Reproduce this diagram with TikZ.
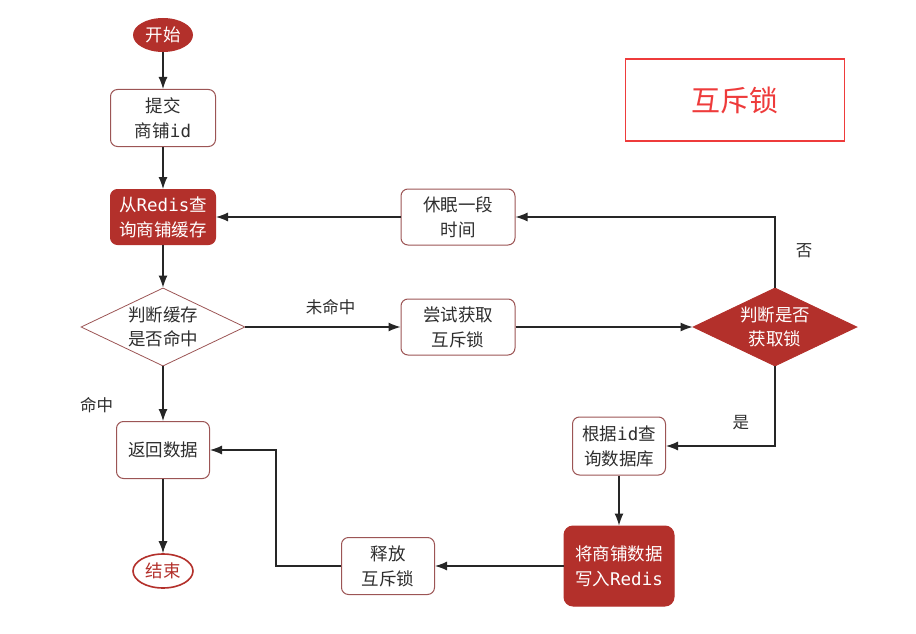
\documentclass[tikz,border=0pt]{standalone}
\usepackage{fontspec}
\setmainfont{Noto Sans CJK SC}
\newfontfamily\monolat{DejaVu Sans Mono}
\usetikzlibrary{shapes.geometric, arrows.meta}
\definecolor{lockred}{HTML}{B3302B}
\definecolor{boxline}{HTML}{9C5555}
\definecolor{textgray}{HTML}{2E2E2E}
\definecolor{notered}{HTML}{EE3B3B}
\begin{document}
\begin{tikzpicture}
    [x=1pt, y=-1pt,
    process/.style={draw=boxline, fill=white, rounded corners=7pt, line width=1pt, minimum height=57pt, inner sep=2pt, align=center, text=textgray, font=\fontsize{17.5}{25}\selectfont},
    redproc/.style={process, fill=lockred, draw=lockred, text=white},
    decision/.style={diamond, draw=boxline, fill=white, line width=0.8pt, minimum width=164pt, minimum height=68pt, inner sep=-8pt, align=center, text=textgray, font=\fontsize{17.5}{24}\selectfont},
    terminal/.style={ellipse, minimum width=60pt, minimum height=34pt, inner sep=0pt, font=\fontsize{17.5}{20}\selectfont},
    tag/.style={text=textgray, font=\fontsize{16.5}{20}\selectfont},
    flow/.style={draw=black!85, line width=1.2pt, -{Latex[length=12pt, width=9pt]}}]
    \useasboundingbox (0,0) rectangle (916,634);
    % \draw[help lines, step=50] (0,0) grid (916,634);
    \node[terminal, fill=lockred, text=white] (start) at (163, 35) {开始};
    \node[process, minimum width=105pt] (submit) at (163, 118) {提交\\商铺{\monolat id}};
    \node[redproc, minimum width=105pt, minimum height=55pt] (query) at (163, 217) {从{\monolat Redis}查\\询商铺缓存};
    \node[decision] (hit) at (163, 327) {判断缓存\\是否命中};
    \node[process, minimum width=93pt] (ret) at (163, 450) {返回数据};
    \node[terminal, draw=lockred, line width=1.6pt, fill=white, text=lockred] (stop) at (163, 571) {结束};
    %
    \node[process, minimum width=114pt, minimum height=56pt] (try) at (458, 327) {尝试获取\\互斥锁};
    \node[process, minimum width=114pt, minimum height=56pt] (sleep) at (458, 217) {休眠一段\\时间};
    \node[decision, fill=lockred, draw=lockred, text=white] (lock) at (775, 327) {判断是否\\获取锁};
    \node[process, minimum width=93pt, minimum height=58pt] (db) at (619, 446) {根据{\monolat id}查\\询数据库};
    \node[redproc, minimum width=110pt, minimum height=80pt, rounded corners=9pt] (write) at (619, 566) {将商铺数据\\写入{\monolat Redis}};
    \node[process, minimum width=93pt] (release) at (388, 566) {释放\\互斥锁};
    \coordinate (bend) at (276, 566);
    %
    \node[draw=notered, line width=1.6pt, minimum width=219pt, minimum height=82pt, text=notered, font=\fontsize{29}{32}\selectfont] (title) at (735, 100) {互斥锁};
    %
    \draw[flow] (start) -- (submit);
    \draw[flow] (submit) -- (query);
    \draw[flow] (query) -- (hit);
    \draw[flow] (hit) -- node[tag, pos=0.7, left=46pt] (hitlbl) {命中} (ret);
    \draw[flow] (ret) -- (stop);
    \draw[flow] (hit) -- node[tag, above=8pt, pos=0.55] (misslbl) {未命中} (try);
    \draw[flow] (try) -- (lock);
    \draw[flow] (lock.north) |- node[tag, pos=0.26, right=17pt] (nolbl) {否} (sleep);
    \draw[flow] (sleep) -- (query);
    \draw[flow] (lock.south) |- node[tag, pos=0.35, left=22pt] (yeslbl) {是} (db);
    \draw[flow] (db) -- (write);
    \draw[flow] (write) -- (release);
    \draw[flow] (release) -- (bend) |- (ret);
\end{tikzpicture}
\end{document}
